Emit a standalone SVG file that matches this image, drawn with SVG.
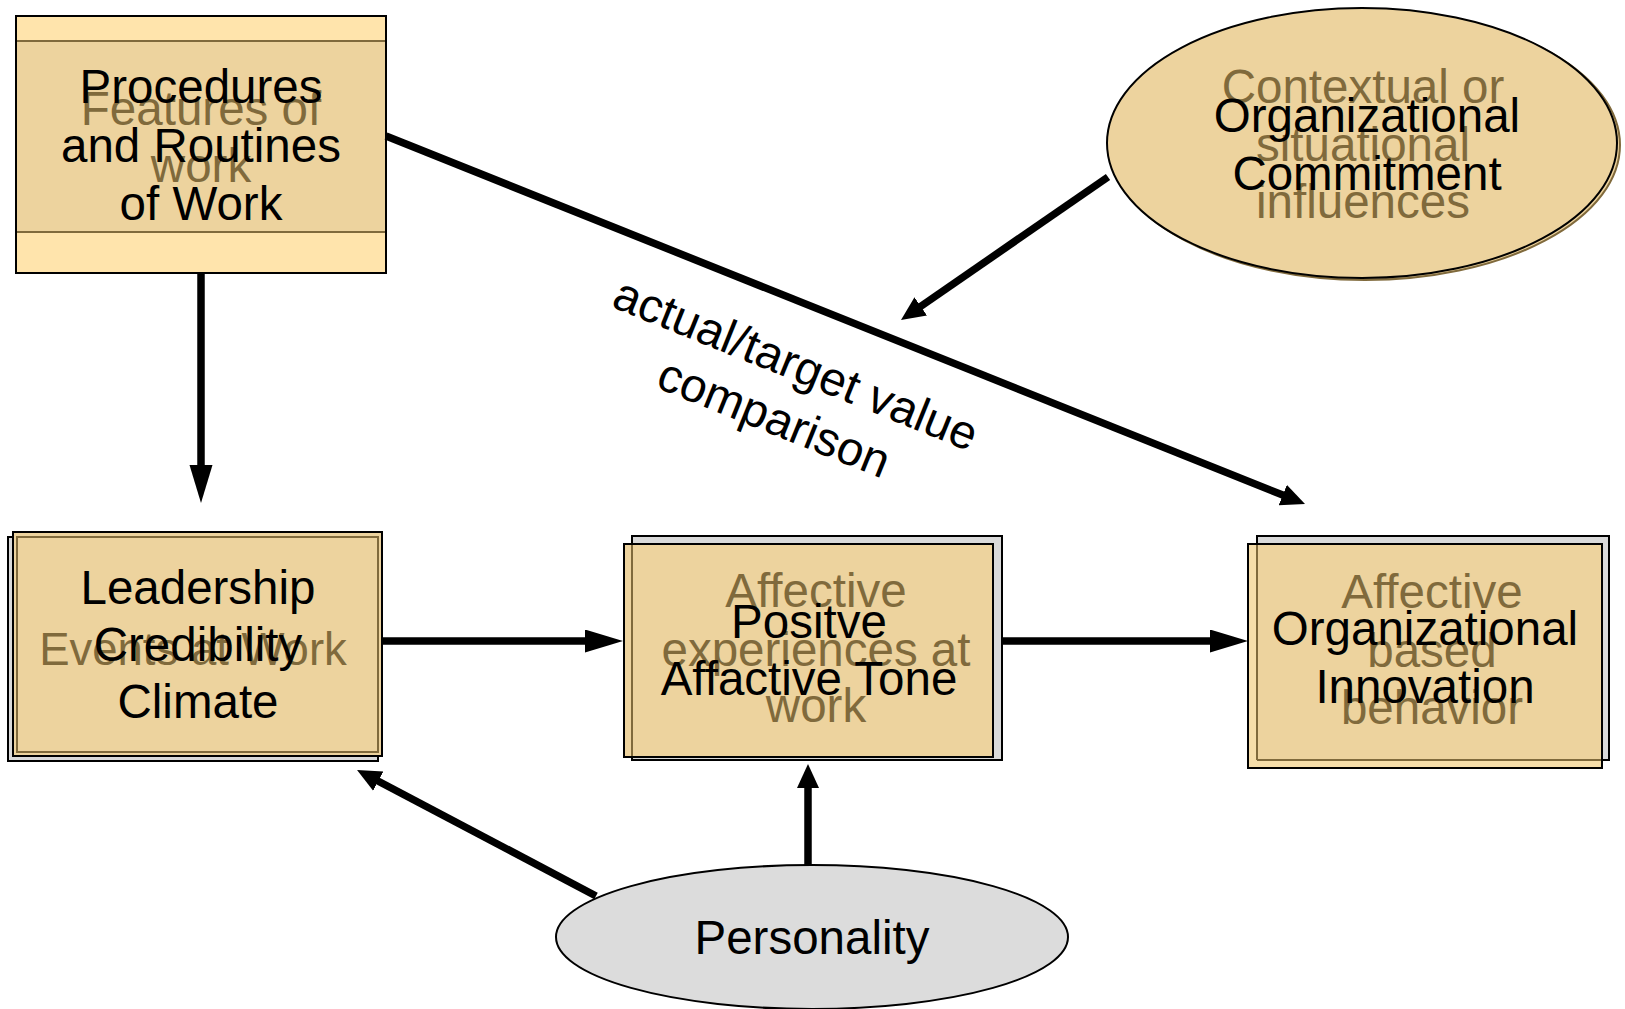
<svg xmlns="http://www.w3.org/2000/svg" width="1625" height="1009" viewBox="0 0 1625 1009">
<style>
text{font-family:"Liberation Sans",Arial,sans-serif;font-size:47.5px;text-anchor:middle}
.blk{fill:#000}
.brn{fill:#806a3c}
.tan{fill:#edd39e;stroke:#000;stroke-width:2}
.gry{fill:#d9d9d9;stroke:#000;stroke-width:2}
.edge{fill:none;stroke:#806a3c;stroke-width:2}
.conn{stroke:#000;stroke-width:7.5;fill:none}
</style>
<defs>
<marker id="big" markerUnits="userSpaceOnUse" markerWidth="40" markerHeight="24" refX="2" refY="11.5" orient="auto">
<path d="M0,0 L38,11.5 L0,23 z" fill="#000"/>
</marker>
<marker id="small" markerUnits="userSpaceOnUse" markerWidth="26" markerHeight="24" refX="2" refY="11" orient="auto">
<path d="M0,0 L24,11 L0,22 z" fill="#000"/>
</marker>
</defs>

<g id="procedures">
<rect x="16" y="16" width="370" height="257" fill="#ffe4ac" stroke="#000" stroke-width="2"/>
<rect x="17" y="41" width="368" height="191" fill="#edd39e"/>
<line x1="17" y1="41" x2="385" y2="41" stroke="#806a3c" stroke-width="2"/>
<line x1="17" y1="232" x2="385" y2="232" stroke="#806a3c" stroke-width="2"/>
<text class="brn" x="201" y="125">Features of</text>
<text class="brn" x="201" y="182">work</text>
<text class="blk" x="201" y="103">Procedures</text>
<text class="blk" x="201" y="162">and Routines</text>
<text class="blk" x="201" y="220">of Work</text>
</g>

<g id="commitment">
<ellipse cx="1365" cy="145" rx="255" ry="135" fill="#edd39e" stroke="#806a3c" stroke-width="2"/>
<ellipse cx="1362" cy="143" rx="255" ry="135" class="tan"/>
<text class="brn" x="1363" y="103">Contextual or</text>
<text class="brn" x="1363" y="161">situational</text>
<text class="brn" x="1363" y="218">influences</text>
<text class="blk" x="1367" y="132">Organizational</text>
<text class="blk" x="1367" y="190">Commitment</text>
</g>

<g id="leadership">
<rect x="8" y="537" width="370" height="224" class="gry"/>
<rect x="13" y="532" width="369" height="224" class="tan"/>
<rect x="17" y="537" width="361" height="215" class="edge"/>
<text class="brn" x="193" y="665" style="font-size:45.5px">Events at Work</text>
<text class="blk" x="198" y="604">Leadership</text>
<text class="blk" x="198" y="661">Credibility</text>
<text class="blk" x="198" y="718">Climate</text>
</g>

<g id="affective-tone">
<rect x="632" y="536" width="370" height="224" class="gry"/>
<rect x="624" y="544" width="369" height="213" class="tan"/>
<line x1="632" y1="545" x2="632" y2="756" stroke="#806a3c" stroke-width="2"/>
<text class="brn" x="816" y="607">Affective</text>
<text class="brn" x="816" y="666">experiences at</text>
<text class="brn" x="816" y="722">work</text>
<text class="blk" x="809" y="638">Positve</text>
<text class="blk" x="809" y="695">Affactive Tone</text>
</g>

<g id="innovation">
<rect x="1257" y="536" width="352" height="224" class="gry"/>
<rect x="1248" y="544" width="354" height="224" fill="#f6deaa" stroke="#000" stroke-width="2"/>
<rect x="1257" y="545" width="344" height="215" fill="#edd39e" stroke="none"/>
<line x1="1257" y1="545" x2="1257" y2="760" stroke="#806a3c" stroke-width="2"/>
<line x1="1257" y1="760" x2="1601" y2="760" stroke="#806a3c" stroke-width="2"/>
<text class="brn" x="1432" y="608">Affective</text>
<text class="brn" x="1432" y="667">based</text>
<text class="brn" x="1432" y="724">behavior</text>
<text class="blk" x="1425" y="645">Organizational</text>
<text class="blk" x="1425" y="703">Innovation</text>
</g>

<g id="personality">
<ellipse cx="812" cy="937" rx="256" ry="72" fill="#dcdcdc" stroke="#000" stroke-width="2"/>
<text class="blk" x="812" y="954">Personality</text>
</g>

<g id="connectors">
<line class="conn" x1="201" y1="273" x2="201" y2="467" marker-end="url(#big)"/>
<line class="conn" x1="386" y1="136" x2="1284.6" y2="495.8" marker-end="url(#small)"/>
<line class="conn" x1="1108" y1="177" x2="919.1" y2="307.5" marker-end="url(#small)"/>
<line class="conn" x1="383" y1="641" x2="587" y2="641" marker-end="url(#big)"/>
<line class="conn" x1="1002" y1="641" x2="1212" y2="641" marker-end="url(#big)"/>
<line class="conn" x1="596" y1="896" x2="376.5" y2="780.2" marker-end="url(#small)"/>
<line class="conn" x1="808" y1="865" x2="808" y2="786" marker-end="url(#small)"/>
<g transform="translate(785,391) rotate(22)">
<text class="blk" x="0" y="-13">actual/target value</text>
<text class="blk" x="0" y="45">comparison</text>
</g>
</g>
</svg>
